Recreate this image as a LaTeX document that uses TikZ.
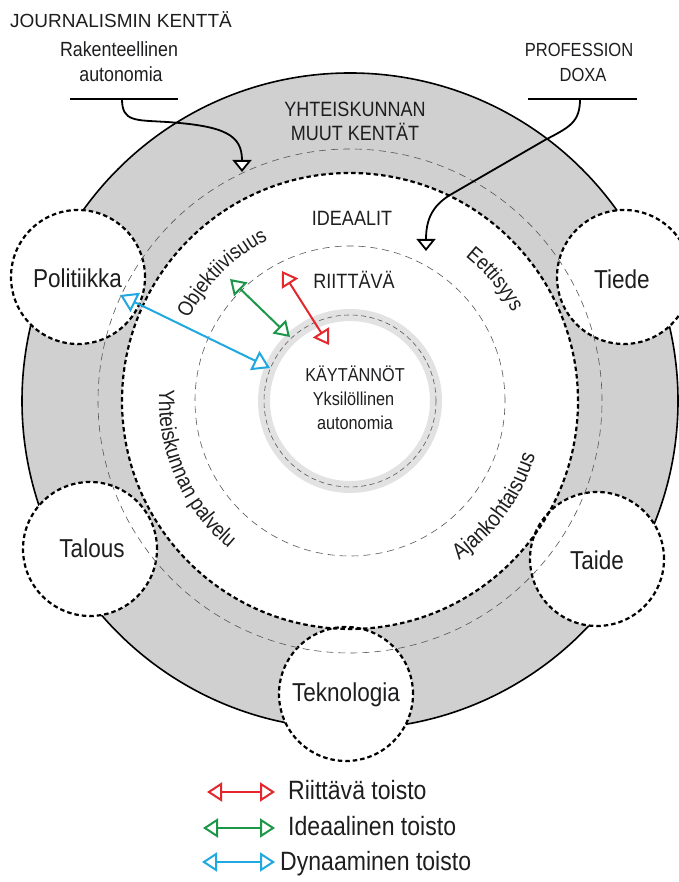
\documentclass[tikz,border=0pt]{standalone}
\usepackage{fontspec}
\setmainfont{Liberation Sans}
\newfontfamily\cnd[FakeStretch=0.87]{Liberation Sans}
\usetikzlibrary{arrows.meta,decorations.text}
\definecolor{ringgray}{RGB}{208,208,209}
\definecolor{bandgray}{RGB}{226,226,226}
\definecolor{dashgray}{RGB}{85,85,85}
\definecolor{txt}{RGB}{30,30,32}
\definecolor{cred}{RGB}{228,38,45}
\definecolor{cgreen}{RGB}{28,150,72}
\definecolor{cblue}{RGB}{32,168,224}
\newcommand{\myfs}[1]{\fontsize{#1}{#1}\selectfont}
\begin{document}
\begin{tikzpicture}[x=1pt,y=1pt,
  thickdash/.style={line width=2.2pt, dash pattern=on 4.5pt off 3pt},
  thindash/.style={line width=0.6pt, draw=dashgray, dash pattern=on 7pt off 5pt},
  sat/.style={circle, thickdash, draw=black, fill=white, minimum size=134pt, inner sep=0pt},
  lbl/.style={inner sep=0pt, anchor=base, text=txt},
  ctri/.tip={Triangle[length=15pt,width=19pt,fill=white]},
  btri/.tip={Triangle[length=17pt,width=21pt,fill=white]},
  ktri/.tip={Triangle[length=12pt,width=19pt,fill=white,line join=miter]},
  colarrow/.style={line width=2pt, ctri-ctri},
  callout/.style={line width=1.8pt, black},
]
\useasboundingbox (0,0) rectangle (678,882);
\coordinate (C) at (350,481);
% gray ring
\fill[ringgray, even odd rule] (C) circle[radius=328pt] (C) circle[radius=228pt];
\draw[line width=1.6pt] (C) circle[radius=328pt];
% satellites
\node[sat] (pol) at (78,605) {};
\node[sat] (tie) at (624,605) {};
\node[sat] (tal) at (90,333) {};
\node[sat] (tai) at (597,323) {};
\node[sat] (tek) at (346,188) {};
% circles
\draw[thindash] (C) circle[radius=252pt];
\draw[thickdash] (C) circle[radius=228pt];
\draw[thindash] (C) circle[radius=155pt];
\draw[bandgray, line width=12pt] (C) circle[radius=86pt];
\draw[line width=0.6pt, draw=dashgray, dash pattern=on 5pt off 3.5pt] (C) circle[radius=86pt];
% satellite labels
\node[lbl, font=\cnd\myfs{25.9}] (tpol) at (77.5,594) {Politiikka};
\node[lbl, font=\cnd\myfs{25.9}] (ttie) at (622,593) {Tiede};
\node[lbl, font=\cnd\myfs{25.9}] (ttal) at (92,324) {Talous};
\node[lbl, font=\cnd\myfs{25.9}] (ttai) at (597,312) {Taide};
\node[lbl, font=\cnd\myfs{25.9}] (ttek) at (346,180) {Teknologia};
% ring texts
\node[lbl, font=\cnd\myfs{20.7}] (yht) at (355,765) {YHTEISKUNNAN};
\node[lbl, font=\cnd\myfs{20.7}] (muut) at (355,741) {MUUT KENTÄT};
\node[lbl, font=\cnd\myfs{20.7}] (idea) at (352,656) {IDEAALIT};
\node[lbl, font=\cnd\myfs{20.7}] (riit) at (354,593) {RIITTÄVÄ};
\node[lbl, font=\cnd\myfs{18.7}] (kay) at (355,500) {KÄYTÄNNÖT};
\node[lbl, font=\cnd\myfs{18.7}] (yks) at (353.5,476) {Yksilöllinen};
\node[lbl, font=\cnd\myfs{18.7}] (aut) at (355,452) {autonomia};
% curved texts
\path[decorate, decoration={text along path, text align=center, text color=txt, text={|\cnd\myfs{21.2}|Objektiivisuus}}]
  ([shift={(170:181pt)}]C) arc[start angle=170, end angle=100, radius=181pt];
\path[decorate, decoration={text along path, text align=center, text color=txt, text={|\cnd\myfs{21.2}|Eettisyys}}]
  ([shift={(75:185pt)}]C) arc[start angle=75, end angle=5, radius=185pt];
\path[decorate, decoration={text along path, text align=center, text color=txt, text={|\cnd\myfs{21.8}|Yhteiskunnan palvelu}}]
  ([shift={(150:191pt)}]C) arc[start angle=150, end angle=257, radius=191pt];
\path[decorate, decoration={text along path, text align=center, text color=txt, text={|\cnd\myfs{22.4}|Ajankohtaisuus}}]
  ([shift={(-80:193pt)}]C) arc[start angle=-80, end angle=8, radius=193pt];
% coloured arrows
\coordinate (b1) at (120,587); \coordinate (b2) at (270,514);
\coordinate (g1) at (230,603); \coordinate (g2) at (290,545);
\coordinate (r1) at (282,611); \coordinate (r2) at (329,537);
\draw[line width=2pt, cblue, btri-btri] (b1) -- (b2);
\draw[colarrow, cgreen] (g1) -- (g2);
\draw[colarrow, cred] (r1) -- (r2);
% top left callout
\node[lbl, font=\myfs{19}] (jk) at (121,854) {JOURNALISMIN KENTTÄ};
\node[lbl, font=\cnd\myfs{20.5}] (rak) at (119,825) {Rakenteellinen};
\node[lbl, font=\cnd\myfs{20.5}] (rau) at (121,800) {autonomia};
\coordinate (jl1) at (70,783); \coordinate (jl2) at (178,783);
\coordinate (js) at (122,783); \coordinate (jt) at (242,710);
\draw[line width=2pt] (jl1) -- (jl2);
\draw[callout, -ktri] (js) .. controls (122,760) and (135,762) .. (167,760)
  .. controls (225,756) and (242,747) .. (jt);
% top right callout
\node[lbl, font=\cnd\myfs{19}] (prof) at (579,825) {PROFESSION};
\node[lbl, font=\cnd\myfs{19}] (doxa) at (583,800) {DOXA};
\coordinate (pl1) at (528,783); \coordinate (pl2) at (637,783);
\coordinate (ps) at (580,783); \coordinate (pt) at (426,631);
\draw[line width=2pt] (pl1) -- (pl2);
\draw[callout, -ktri] (ps) .. controls (580,760) and (570,755) .. (545,742)
  -- (450,687) .. controls (432,676) and (426,662) .. (pt);
% legend
\coordinate (lr1) at (207,90); \coordinate (lr2) at (275,90);
\coordinate (lg1) at (203,54); \coordinate (lg2) at (275,54);
\coordinate (lb1) at (202,20); \coordinate (lb2) at (275,20);
\draw[colarrow, cred] (lr1) -- (lr2);
\draw[colarrow, cgreen] (lg1) -- (lg2);
\draw[colarrow, cblue] (lb1) -- (lb2);
\node[inner sep=0pt, anchor=base west, text=txt, font=\cnd\myfs{26.5}] (leg1) at (288,82) {Riittävä toisto};
\node[inner sep=0pt, anchor=base west, text=txt, font=\cnd\myfs{26.5}] (leg2) at (288,46) {Ideaalinen toisto};
\node[inner sep=0pt, anchor=base west, text=txt, font=\cnd\myfs{26.5}] (leg3) at (280,12) {Dynaaminen toisto};
\end{tikzpicture}
\end{document}
